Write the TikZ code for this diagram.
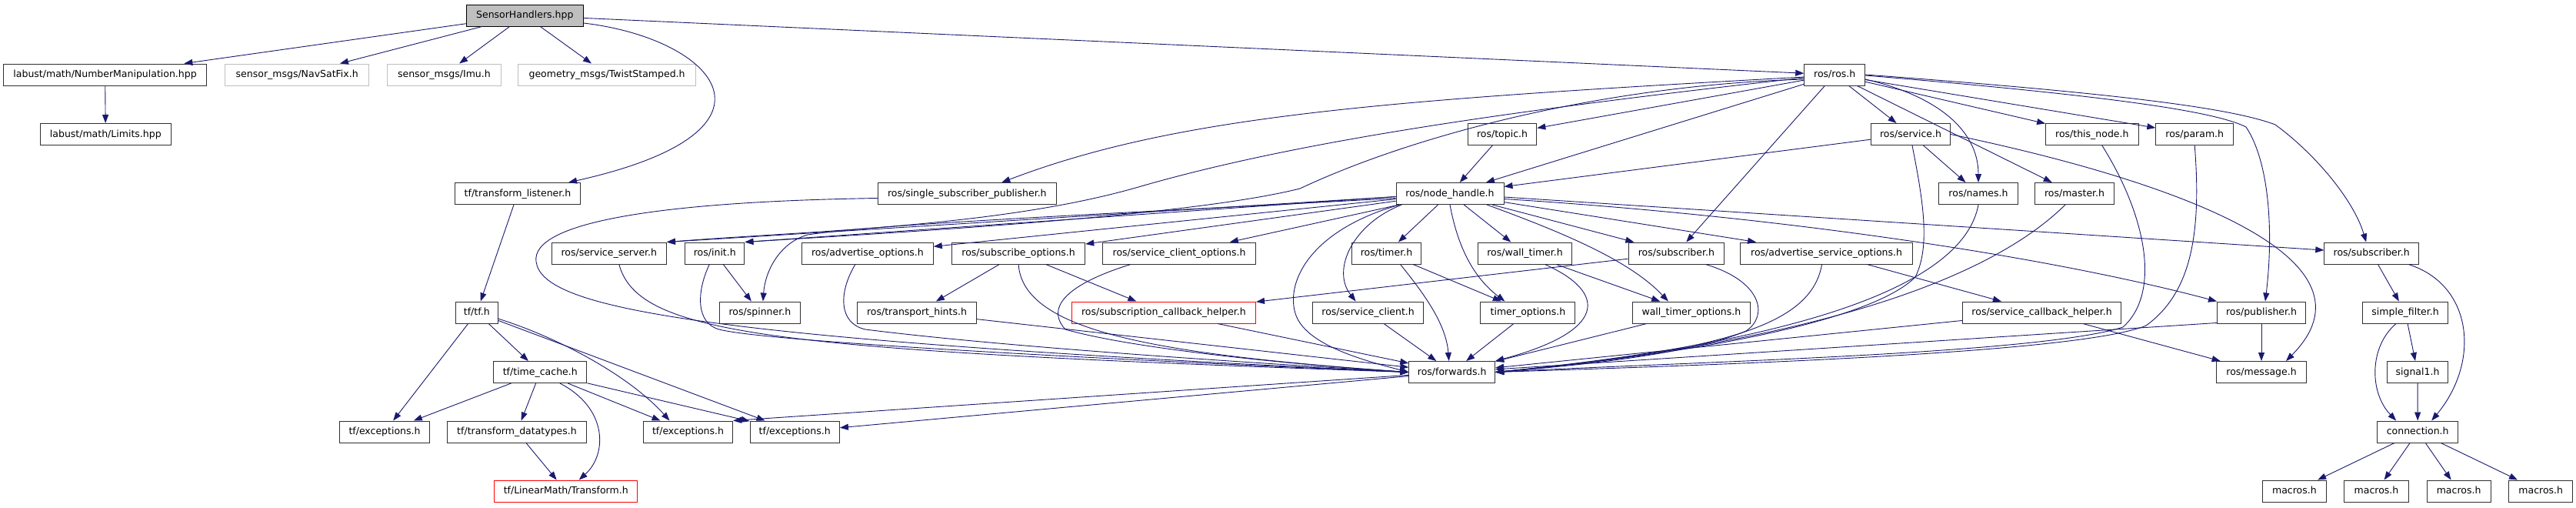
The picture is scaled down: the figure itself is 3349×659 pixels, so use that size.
\documentclass[tikz,border=0pt]{standalone}
\usepackage{fontspec}
\setmainfont{DejaVu Sans}
\usetikzlibrary{arrows.meta,calc}
\definecolor{edgecol}{HTML}{191970}
\definecolor{extgray}{HTML}{BFBFBF}
\definecolor{bordercol}{HTML}{303030}
\newcommand\nodefont{\fontsize{12.5}{15}\selectfont}
\begin{document}
\begin{tikzpicture}[x=1pt,y=-1pt,
  nd/.style={draw=bordercol, line width=1pt, rectangle, minimum height=28pt, inner sep=0pt, text height=9.5pt, text depth=2.5pt, font=\nodefont},
  ext/.style={nd, draw=extgray},
  bad/.style={nd, draw=red},
  rootnd/.style={nd, fill=extgray, draw=black},
  e/.style={draw=edgecol, line width=0.9pt, -{Triangle[length=11pt,width=8pt]}}]
\useasboundingbox (0,0) rectangle (3349,659);
% row 0
\node[rootnd, minimum width=151.8pt] (root) at (682.3,20) {SensorHandlers.hpp};
% row 1
\node[nd, minimum width=264.6pt] (numman) at (136.6,97) {labust/math/NumberManipulation.hpp};
\node[ext, minimum width=186.8pt] (navsat) at (386.2,97) {sensor\_msgs/NavSatFix.h};
\node[ext, minimum width=147.5pt] (imu) at (577.4,97) {sensor\_msgs/Imu.h};
\node[ext, minimum width=231pt] (twist) at (789.1,97) {geometry\_msgs/TwistStamped.h};
\node[nd, minimum width=78.9pt] (rosh) at (2385.2,97) {ros/ros.h};
% row 2
\node[nd, minimum width=169.6pt] (limits) at (137.3,174.5) {labust/math/Limits.hpp};
\node[nd, minimum width=89.6pt] (topic) at (1953,174.5) {ros/topic.h};
\node[nd, minimum width=102.9pt] (service) at (2484,174.5) {ros/service.h};
\node[nd, minimum width=120.4pt] (thisnode) at (2719.8,174.5) {ros/this\_node.h};
\node[nd, minimum width=100.7pt] (param) at (2853.2,174.5) {ros/param.h};
% row 3
\node[nd, minimum width=163.2pt] (tflist) at (673,251.5) {tf/transform\_listener.h};
\node[nd, minimum width=231.8pt] (ssp) at (1257.3,251.5) {ros/single\_subscriber\_publisher.h};
\node[nd, minimum width=140pt] (nh) at (1885,251.5) {ros/node\_handle.h};
\node[nd, minimum width=102.5pt] (names) at (2572,251.5) {ros/names.h};
\node[nd, minimum width=102.5pt] (master) at (2697,251.5) {ros/master.h};
% row 4
\node[nd, minimum width=149.3pt] (ssrv) at (791.8,329) {ros/service\_server.h};
\node[nd, minimum width=77.2pt] (init) at (929.3,329) {ros/init.h};
\node[nd, minimum width=170.7pt] (advopt) at (1127.9,329) {ros/advertise\_options.h};
\node[nd, minimum width=173.2pt] (subopt) at (1324.1,329) {ros/subscribe\_options.h};
\node[nd, minimum width=198.9pt] (scopt) at (1533,329) {ros/service\_client\_options.h};
\node[nd, minimum width=90.7pt] (timer) at (1802.5,329) {ros/timer.h};
\node[nd, minimum width=121.4pt] (wtimer) at (1982.5,329) {ros/wall\_timer.h};
\node[nd, minimum width=124.6pt] (subm) at (2179.4,329) {ros/subscriber.h};
\node[nd, minimum width=223.6pt] (advsvc) at (2374.6,329) {ros/advertise\_service\_options.h};
\node[nd, minimum width=122.8pt] (subr) at (3083.2,329) {ros/subscriber.h};
% row 5
\node[nd, minimum width=54.6pt] (tftf) at (619.8,406) {tf/tf.h};
\node[nd, minimum width=104.3pt] (spinner) at (987.9,406) {ros/spinner.h};
\node[nd, minimum width=154.3pt] (thints) at (1192,406) {ros/transport\_hints.h};
\node[bad, minimum width=239.3pt] (sch) at (1512.9,406) {ros/subscription\_callback\_helper.h};
\node[nd, minimum width=144.3pt] (sclient) at (1778.6,406) {ros/service\_client.h};
\node[nd, minimum width=122.9pt] (topt) at (1986.4,406) {timer\_options.h};
\node[nd, minimum width=152.7pt] (wtopt) at (2198.9,406) {wall\_timer\_options.h};
\node[nd, minimum width=206.4pt] (svccb) at (2654.6,406) {ros/service\_callback\_helper.h};
\node[nd, minimum width=115pt] (publisher) at (2940,406) {ros/publisher.h};
\node[nd, minimum width=110.7pt] (simple) at (3127.1,406) {simple\_filter.h};
% row 6
\node[nd, minimum width=121.1pt] (tcache) at (702.3,483.5) {tf/time\_cache.h};
\node[nd, minimum width=111.8pt] (forwards) at (1887.7,483.5) {ros/forwards.h};
\node[nd, minimum width=117.9pt] (message) at (2940,483.5) {ros/message.h};
\node[nd, minimum width=78.9pt] (signal1) at (3143,483.5) {signal1.h};
% row 7
\node[nd, minimum width=116.4pt] (exc1) at (500,561) {tf/exceptions.h};
\node[nd, minimum width=181.8pt] (tdt) at (672,561) {tf/transform\_datatypes.h};
\node[nd, minimum width=116.1pt] (exc2) at (894.5,561) {tf/exceptions.h};
\node[nd, minimum width=116.4pt] (exc3) at (1033.2,561) {tf/exceptions.h};
\node[nd, minimum width=105pt] (connection) at (3143.2,561) {connection.h};
% row 8
\node[bad, minimum width=185.7pt] (ltr) at (735.7,638) {tf/LinearMath/Transform.h};
\node[nd, minimum width=82.9pt] (mac1) at (2982.9,638) {macros.h};
\node[nd, minimum width=83.2pt] (mac2) at (3089.5,638) {macros.h};
\node[nd, minimum width=83.2pt] (mac3) at (3196.6,638) {macros.h};
\node[nd, minimum width=82.9pt] (mac4) at (3303.2,638) {macros.h};

% ---- edges from SensorHandlers.hpp
\draw[e] (root) -- (numman);
\draw[e] (root) -- (navsat);
\draw[e] (root) -- (imu);
\draw[e] (root) -- (twist);
\draw[e] ($(root.east)+(0,10)$) .. controls (930,50) and (1040,170) .. ($(tflist.north east)+(-16,0)$);
\draw[e] (root) -- (rosh);
\draw[e] (numman) -- (limits);
% ---- ros/ros.h
\draw[e] (rosh) -- (topic);
\draw[e] (rosh) -- (nh);
\draw[e] (rosh) -- (service);
\draw[e] ($(rosh.east)+(0,6)$) .. controls (2520,125) and (2572,170) .. (names.north);
\draw[e] (rosh) -- (master);
\draw[e] (rosh) -- (thisnode);
\draw[e] (rosh) -- (param);
\draw[e] ($(rosh.east)+(0,1)$) .. controls (2750,125) and (2880,145) .. (2920,165) .. controls (2950,210) and (2956,300) .. ($(publisher.north)+(5,0)$);
\draw[e] (rosh.east) .. controls (2750,121) and (2900,140) .. (2958,162) .. controls (3010,200) and (3060,260) .. ($(subr.north)+(-7,0)$);
\draw[e] ($(rosh.west)+(0,3)$) .. controls (1800,130) and (1530,150) .. ($(ssp.north)+(45,0)$);
\draw[e] ($(rosh.west)+(0,4)$) .. controls (1950,145) and (1680,185) .. (1480,243) .. controls (1300,295) and (1050,300) .. (ssrv.north east);
\draw[e] ($(rosh.west)+(0,6)$) .. controls (2100,110) and (1850,170) .. (1690,245) .. controls (1550,280) and (1200,300) .. (init.north east);
\draw[e] (rosh) -- (subm);
% ---- ros/service.h
\draw[e] (service) -- (nh);
\draw[e] (service) -- (names);
\draw[e] (service.east) .. controls (2850,240) and (3100,340) .. ($(message.north)+(32,0)$);
\draw[e] ($(service.south)+(2,0)$) .. controls (2500,260) and (2510,320) .. (2490,360) .. controls (2440,410) and (2250,455) .. (forwards.east);
% ---- names, master, this_node, param
\draw[e] (names.south) .. controls (2555,360) and (2380,440) .. (forwards.east);
\draw[e] ($(master.south)+(-12,0)$) .. controls (2600,350) and (2400,440) .. (forwards.east);
\draw[e] ($(thisnode.south)+(13,0)$) .. controls (2790,280) and (2810,380) .. (2760,425) .. controls (2650,460) and (2200,470) .. (forwards.east);
\draw[e] (param.south) .. controls (2862,300) and (2850,380) .. (2790,423) .. controls (2700,460) and (2200,475) .. (forwards.east);
% ---- topic, transform_listener
\draw[e] (topic) -- (nh);
\draw[e] (tflist) -- (tftf);
% ---- row-4 left group
\draw[e] ($(ssp.west)+(0,6)$) .. controls (850,262) and (690,290) .. (697,340) .. controls (705,400) and (900,440) .. (forwards.west);
\draw[e] ($(ssrv.south)+(13,0)$) .. controls (830,435) and (1000,455) .. (forwards.west);
\draw[e] (init) -- (spinner);
\draw[e] ($(init.south)+(-7,0)$) .. controls (905,380) and (905,420) .. (935,428) .. controls (1000,445) and (1500,470) .. (forwards.west);
\draw[e] ($(advopt.south)+(-16,0)$) .. controls (1090,380) and (1090,420) .. (1125,428) .. controls (1300,450) and (1600,470) .. (forwards.west);
\draw[e] (subopt) -- (thints);
\draw[e] (subopt) -- (sch);
\draw[e] (subopt.south) .. controls (1330,430) and (1500,460) .. (forwards.west);
\draw[e] ($(scopt.south)+(-63,0)$) .. controls (1400,365) and (1355,395) .. (1385,428) .. controls (1480,455) and (1700,475) .. (forwards.west);
\draw[e] (thints) -- (forwards);
\draw[e] (sch) -- (forwards);
% ---- ros/node_handle.h
\draw[e] ($(nh.west)+(0,4)$) -- (ssrv.north east);
\draw[e] ($(nh.west)+(0,4)$) -- (init.north east);
\draw[e] ($(nh.west)+(0,6)$) .. controls (1500,275) and (1150,290) .. (1050,305) .. controls (1015,315) and (995,350) .. ($(spinner.north)+(4,0)$);
\draw[e] (nh) -- (advopt);
\draw[e] (nh) -- (subopt);
\draw[e] (nh) -- (scopt);
\draw[e] ($(nh.south west)+(8,0)$) .. controls (1760,290) and (1730,350) .. ($(sclient.north)+(-16,0)$);
\draw[e] ($(nh.south west)+(5,0)$) .. controls (1700,300) and (1670,370) .. (1685,410) .. controls (1700,450) and (1780,470) .. (forwards.west);
\draw[e] (nh) -- (timer);
\draw[e] (nh) -- (wtimer);
\draw[e] (nh.south) .. controls (1895,320) and (1915,360) .. ($(topt.north)+(-30,0)$);
\draw[e] ($(nh.south)+(48,0)$) .. controls (2040,305) and (2120,340) .. ($(wtopt.north)+(-30,0)$);
\draw[e] (nh) -- (subm);
\draw[e] (nh) -- (advsvc);
\draw[e] ($(nh.east)+(0,7)$) .. controls (2300,280) and (2650,330) .. (publisher.north west);
\draw[e] (nh) -- (subr);
% ---- timers, subscribers, services
\draw[e] (timer) -- (topt);
\draw[e] ($(timer.south)+(18,0)$) .. controls (1850,380) and (1880,420) .. ($(forwards.north)+(-4,0)$);
\draw[e] (wtimer) -- (wtopt);
\draw[e] ($(wtimer.south)+(26,0)$) .. controls (2090,380) and (2090,430) .. (forwards.north east);
\draw[e] (sclient) -- (forwards);
\draw[e] (topt) -- (forwards);
\draw[e] (wtopt) -- (forwards);
\draw[e] (subm) -- (sch);
\draw[e] ($(subm.south)+(38,0)$) .. controls (2290,365) and (2300,410) .. (2270,430) .. controls (2200,460) and (2050,475) .. (forwards.east);
\draw[e] (advsvc) -- (svccb);
\draw[e] ($(advsvc.south)+(-6,0)$) .. controls (2355,420) and (2250,455) .. (forwards.east);
\draw[e] (svccb) -- (forwards);
\draw[e] (svccb) -- (message);
\draw[e] (publisher) -- (message);
\draw[e] ($(publisher.south west)+(0,-1)$) -- (forwards);
% ---- message_filters side
\draw[e] (subr) -- (simple);
\draw[e] ($(subr.south)+(48,0)$) .. controls (3215,370) and (3225,470) .. ($(connection.north)+(18,0)$);
\draw[e] (simple) -- (signal1);
\draw[e] ($(simple.south)+(-12,0)$) .. controls (3080,450) and (3080,510) .. ($(connection.north)+(-28,0)$);
\draw[e] (signal1) -- (connection);
\draw[e] (connection) -- (mac1);
\draw[e] (connection) -- (mac2);
\draw[e] (connection) -- (mac3);
\draw[e] (connection) -- (mac4);
% ---- tf side
\draw[e] (tftf) -- (exc1);
\draw[e] (tftf) -- (tcache);
\draw[e] ($(tftf.east)+(0,8)$) .. controls (730,440) and (820,490) .. ($(exc2.north)+(-24,0)$);
\draw[e] (tftf) -- (exc3);
\draw[e] (tcache) -- (exc1);
\draw[e] (tcache) -- (tdt);
\draw[e] ($(tcache.south)+(25.6,0)$) .. controls (790,530) and (790,590) .. ($(ltr.north)+(17,0)$);
\draw[e] (tcache) -- (exc2);
\draw[e] (tcache) -- (exc3);
\draw[e] (tdt) -- (ltr);
\draw[e] (forwards) -- (exc2.north east);
\draw[e] (forwards) -- (exc3);
\end{tikzpicture}
\end{document}
